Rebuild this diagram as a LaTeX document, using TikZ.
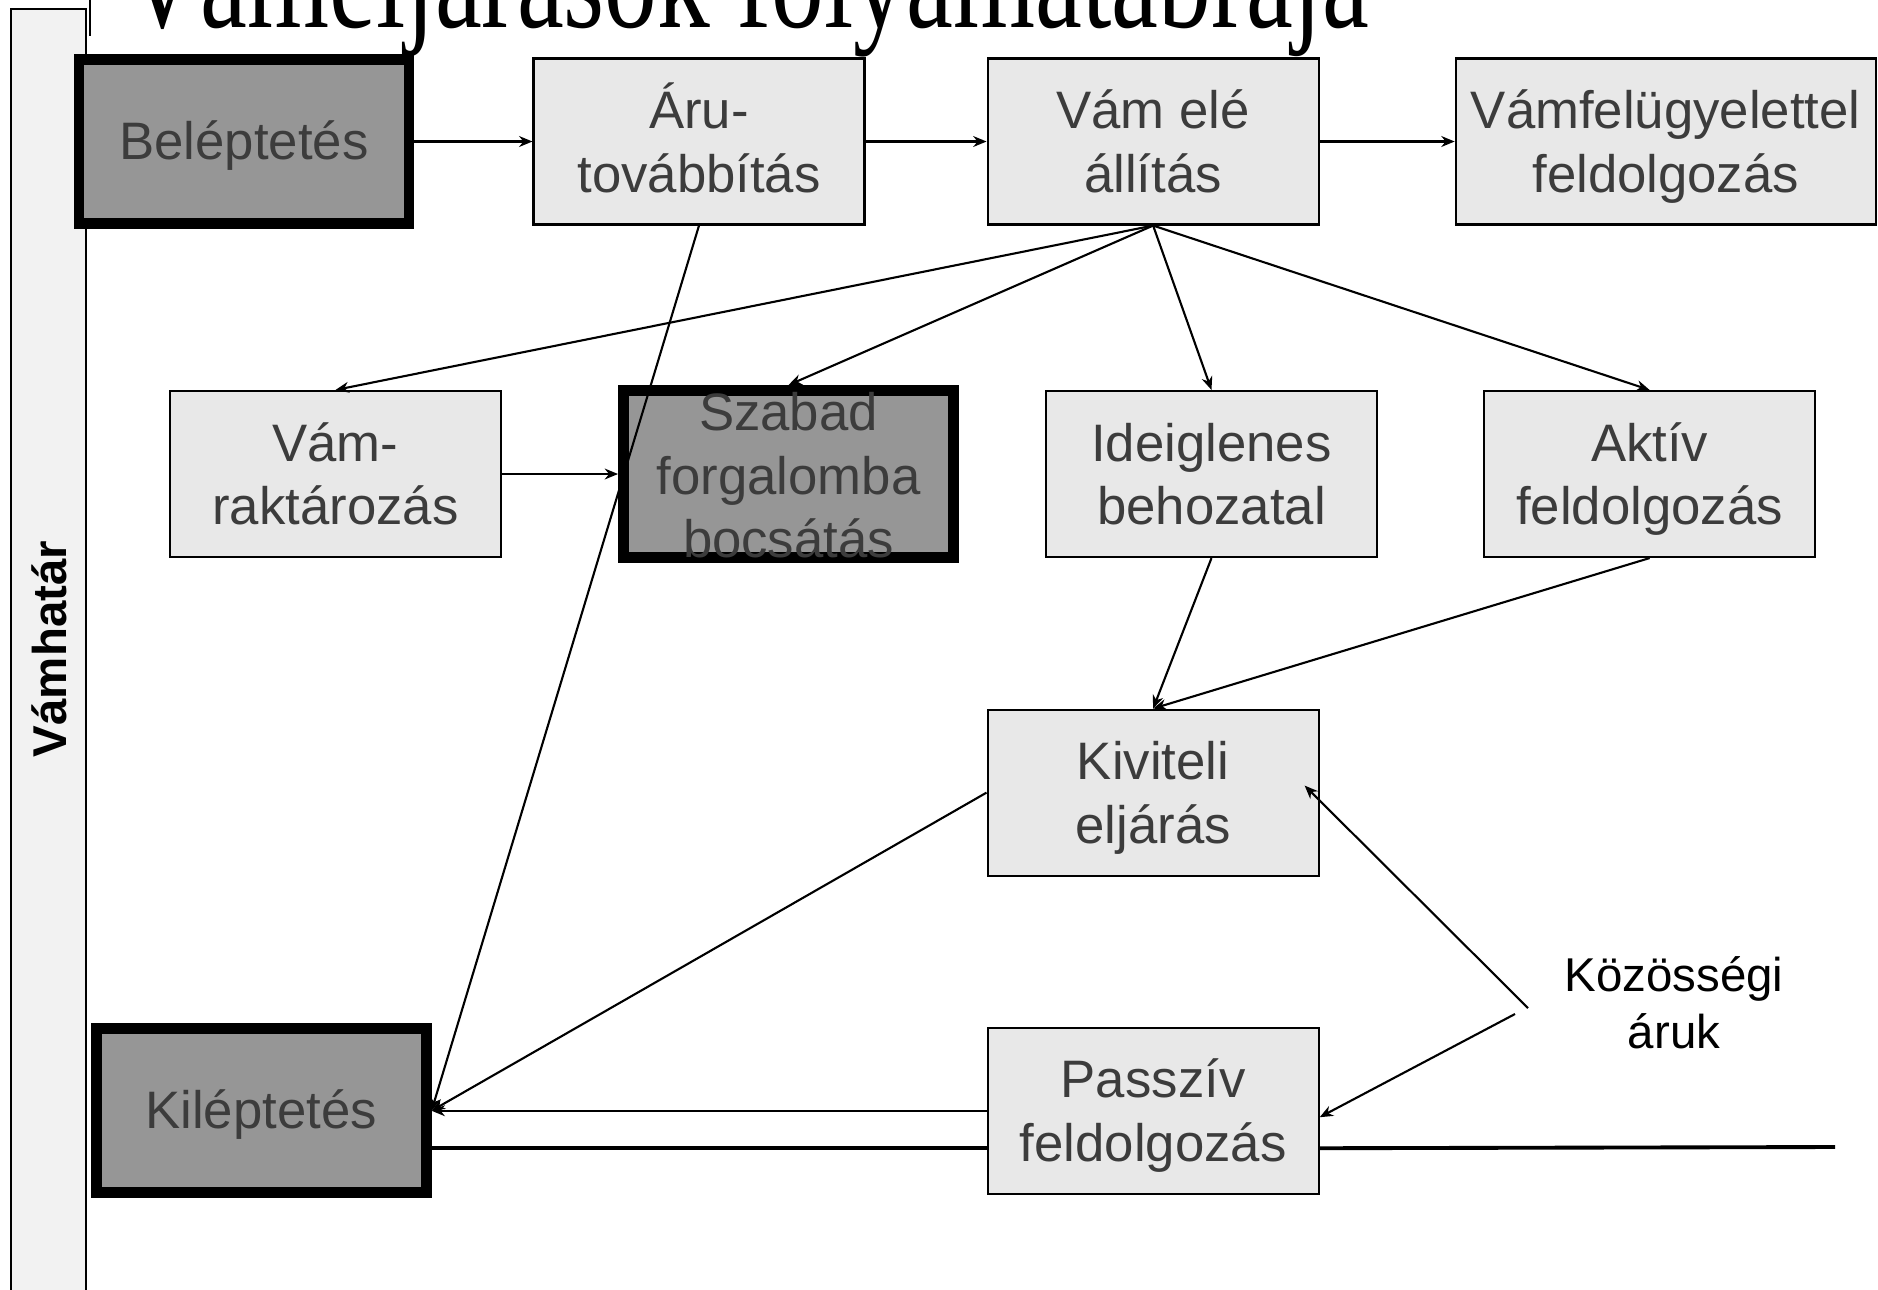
\documentclass[tikz,border=0pt]{standalone}
\usepackage{fontspec}
\usepackage{xcolor}
\usepackage{tikz}
\usetikzlibrary{arrows.meta, positioning}
\newfontfamily\arialfont{Liberation Sans}
\newfontfamily\garfont{Liberation Serif}
\definecolor{vlight}{HTML}{E8E8E8}
\definecolor{vdark}{HTML}{969696}
\definecolor{vtext}{HTML}{3C3C3C}
\definecolor{vbar}{HTML}{F2F2F2}

\begin{document}
\begin{tikzpicture}[
  box/.style={rectangle, draw=black, fill=vlight, line width=0.6pt,
    minimum width=3.31cm, minimum height=1.66cm, inner sep=2pt, align=center,
    text=vtext, font=\arialfont\fontsize{15}{18}\selectfont,
    text height=#1, text depth=0pt},
  box/.default=1.01cm,
  darkbox/.style={box=#1, fill=vdark, line width=3.1pt,
    minimum width=3.30cm, minimum height=1.64cm},
  darkbox/.default=0.36cm,
  flow/.style={-{Stealth[length=3.8pt, width=3.1pt]}, line width=0.6pt},
  border/.style={line width=1.1pt},
]
  \useasboundingbox (0,0) rectangle (18.78,-12.89);

  % title and border strip
  \node[anchor=base west, inner sep=0pt, font=\garfont\fontsize{30}{36}\selectfont]
    (title) at (1.24,-0.27) {\scalebox{1}[1.3]{Vámeljárások folyamatábrája}};
  \draw[fill=vbar, line width=0.4pt] (0.11,-0.09) rectangle (0.86,-13.2);
  \draw[line width=0.4pt] (0.90,0.2) -- (0.90,-0.36);
  \node[rotate=90, font=\arialfont\bfseries\fontsize{13.5}{16}\selectfont]
    (hatar) at (0.49,-6.49) {Vámhatár};

  % first row
  \node[darkbox] (bel) at (2.44,-1.415) {Beléptetés};
  \node[box, right=1.18cm of bel] (aru) {Áru-\\továbbítás};
  \node[box, right=1.21cm of aru] (vam) {Vám elé\\állítás};
  \node[box, right=1.35cm of vam, minimum width=4.20cm] (vfel) {Vámfelügyelettel\\feldolgozás};

  % second row
  \node[box] (rakt) at (3.355,-4.74) {Vám-\\raktározás};
  \node[darkbox=1.67cm, right=1.16cm of rakt, inner sep=0pt]
    (szab) {Szabad\\forgalomba\\bocsátás};
  \node[box, right=0.86cm of szab] (ideig) {Ideiglenes\\behozatal};
  \node[box, right=1.05cm of ideig] (aktiv) {Aktív\\feldolgozás};

  % export and exit
  \node[box, below=4.83cm of vam] (kiv) {Kiviteli\\eljárás};
  \node[box, below=1.50cm of kiv] (passz) {Passzív\\feldolgozás};
  \node[darkbox, left=5.55cm of passz] (kilep) {Kiléptetés};

  \node[align=center, font=\arialfont\fontsize{13.5}{16.2}\selectfont]
    (kozos) at (16.74,-10.03) {Közösségi\\áruk};
  \coordinate (k1) at (15.28,-10.08);
  \coordinate (k2) at (15.15,-10.14);
  \coordinate (edge) at (18.35,-11.47);

  \draw[flow] (bel) -- (aru);
  \draw[flow] (aru) -- (vam);
  \draw[flow] (vam) -- (vfel);
  \draw[flow] (vam.south) -- (rakt.north);
  \draw[flow] (vam.south) -- (szab.north);
  \draw[flow] (vam.south) -- (ideig.north);
  \draw[flow] (vam.south) -- (aktiv.north);
  \draw[flow] (rakt) -- (szab);
  \draw[flow] (aru.south) -- (kilep.east);
  \draw[flow] (ideig.south) -- (kiv.north);
  \draw[flow] (aktiv.south) -- (kiv.north);
  \draw[flow] (kiv.west) -- (kilep.east);
  \draw[flow] (passz.west) -- (kilep.east);
  \draw[flow] (k1) -- ([xshift=-0.15cm, yshift=0.07cm]kiv.east);
  \draw[flow] (k2) -- ([yshift=-0.065cm]passz.east);

  % border line
  \draw[border] ([yshift=-0.375cm]kilep.east) -- ([yshift=-0.375cm]passz.west);
  \draw[border] ([yshift=-0.375cm]passz.east) -- (edge);
\end{tikzpicture}
\end{document}
